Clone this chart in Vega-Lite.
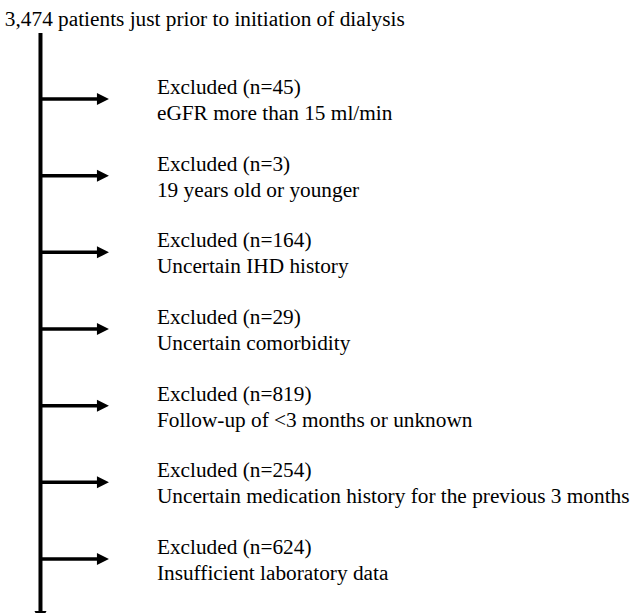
{
  "$schema": "https://vega.github.io/schema/vega-lite/v6.json",
  "width": 633,
  "height": 613,
  "autosize": {"type": "none"},
  "padding": 0,
  "background": "white",
  "config": {"view": {"stroke": null}, "font": "Liberation Serif"},
  "datasets": {
    "excl": [
      {"step": 0, "head": "Excluded (n=45)", "reason": "eGFR more than 15 ml/min"},
      {"step": 1, "head": "Excluded (n=3)", "reason": "19 years old or younger"},
      {"step": 2, "head": "Excluded (n=164)", "reason": "Uncertain IHD history"},
      {"step": 3, "head": "Excluded (n=29)", "reason": "Uncertain comorbidity"},
      {"step": 4, "head": "Excluded (n=819)", "reason": "Follow-up of <3 months or unknown"},
      {"step": 5, "head": "Excluded (n=254)", "reason": "Uncertain medication history for the previous 3 months"},
      {"step": 6, "head": "Excluded (n=624)", "reason": "Insufficient laboratory data"}
    ],
    "trunk": [{"from": -0.86, "to": 6.756}],
    "start": [{"step": -1, "label": "3,474 patients just prior to initiation of dialysis"}]
  },
  "layer": [
    {
      "data": {"name": "trunk"},
      "mark": {"type": "rule", "strokeWidth": 4, "color": "black"},
      "encoding": {
        "x": {"datum": 0, "type": "quantitative", "scale": {"domain": [-0.591, 8.65], "nice": false, "zero": false}, "axis": null},
        "y": {"field": "from", "type": "quantitative", "scale": {"domain": [-1.291, 6.704], "nice": false, "zero": false, "reverse": true}, "axis": null},
        "y2": {"field": "to"}
      }
    },
    {
      "data": {"name": "trunk"},
      "mark": {"type": "point", "filled": true, "opacity": 1, "color": "black", "size": 144, "shape": "M-1,-1L1,-1L0,1Z"},
      "encoding": {
        "x": {"datum": 0, "type": "quantitative", "axis": null},
        "y": {"field": "to", "type": "quantitative", "axis": null}
      }
    },
    {
      "data": {"name": "excl"},
      "mark": {"type": "rule", "strokeWidth": 3.5, "color": "black"},
      "encoding": {
        "x": {"datum": 0, "type": "quantitative", "axis": null},
        "x2": {"datum": 0.912},
        "y": {"field": "step", "type": "quantitative", "axis": null}
      }
    },
    {
      "data": {"name": "excl"},
      "mark": {"type": "point", "filled": true, "opacity": 1, "color": "black", "size": 144, "shape": "M-1,-1L1,0L-1,1Z"},
      "encoding": {
        "x": {"datum": 0.912, "type": "quantitative", "axis": null},
        "y": {"field": "step", "type": "quantitative", "axis": null}
      }
    },
    {
      "data": {"name": "excl"},
      "mark": {"type": "text", "align": "left", "baseline": "alphabetic", "dy": -5, "fontSize": 21.3, "color": "black"},
      "encoding": {
        "x": {"datum": 1.70, "type": "quantitative", "axis": null},
        "y": {"field": "step", "type": "quantitative", "axis": null},
        "text": {"field": "head"}
      }
    },
    {
      "data": {"name": "excl"},
      "mark": {"type": "text", "align": "left", "baseline": "alphabetic", "dy": 21, "fontSize": 21.3, "color": "black"},
      "encoding": {
        "x": {"datum": 1.70, "type": "quantitative", "axis": null},
        "y": {"field": "step", "type": "quantitative", "axis": null},
        "text": {"field": "reason"}
      }
    },
    {
      "data": {"name": "start"},
      "mark": {"type": "text", "align": "left", "baseline": "alphabetic", "dy": 4, "fontSize": 21.3, "color": "black"},
      "encoding": {
        "x": {"datum": -0.52, "type": "quantitative", "axis": null},
        "y": {"field": "step", "type": "quantitative", "axis": null},
        "text": {"field": "label"}
      }
    }
  ]
}
